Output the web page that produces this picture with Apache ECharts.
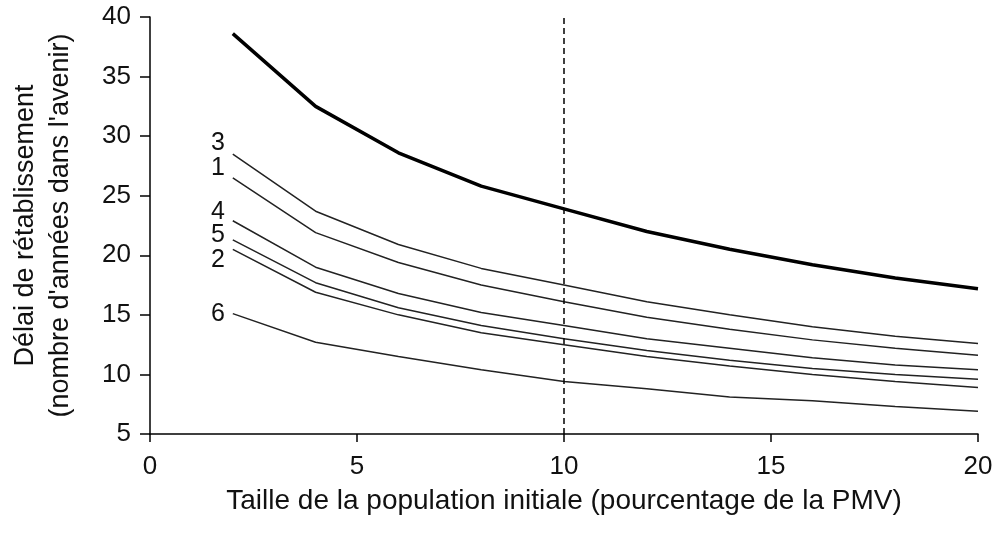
<!DOCTYPE html>
<html>
<head>
<meta charset="utf-8">
<script src="https://cdn.jsdelivr.net/npm/echarts@6/dist/echarts.min.js"></script>
<style>
html,body{margin:0;padding:0;background:#fff;}
#chart{width:997px;height:542px;}
</style>
</head>
<body>
<div id="chart"></div>
<script>
// ---- data ----
const xValues = [2, 4, 6, 8, 10, 12, 14, 16, 18, 20];
const baseline = [38.6, 32.5, 28.6, 25.8, 23.9, 22.0, 20.5, 19.2, 18.1, 17.2];
const scen3 = [28.5, 23.7, 20.9, 18.9, 17.5, 16.1, 15.0, 14.0, 13.2, 12.6];
const scen1 = [26.5, 21.9, 19.4, 17.5, 16.1, 14.8, 13.8, 12.9, 12.2, 11.6];
const scen4 = [22.9, 19.0, 16.8, 15.2, 14.1, 13.0, 12.2, 11.4, 10.8, 10.4];
const scen5 = [21.3, 17.7, 15.6, 14.1, 13.0, 12.0, 11.2, 10.5, 10.0, 9.6];
const scen2 = [20.5, 16.9, 15.0, 13.5, 12.5, 11.5, 10.7, 10.0, 9.4, 8.9];
const scen6 = [15.1, 12.7, 11.5, 10.4, 9.4, 8.8, 8.1, 7.8, 7.3, 6.9];
const scenarioNames = ['3', '1', '4', '5', '2', '6'];
const referenceX = 10;
const xTitle = 'Taille de la population initiale (pourcentage de la PMV)';
const yTitle = 'Délai de rétablissement\n(nombre d\'années dans l\'avenir)';

const FONT = "'Liberation Sans', Arial, sans-serif";
const scenarios = [scen3, scen1, scen4, scen5, scen2, scen6];
const labelOffsets = [[0, -11], [0, -10], [0, -9], [0, -5], [0, 11], [0, 0]];

function pts(arr, labelText, off) {
  return xValues.map((x, i) => {
    const item = { value: [x, arr[i]] };
    if (i === 0 && labelText) {
      item.label = {
        show: true, formatter: labelText, position: 'left', distance: 8,
        offset: off, color: '#111', fontSize: 25, fontFamily: FONT
      };
    }
    return item;
  });
}

const series = [{
  type: 'line',
  data: pts(baseline),
  showSymbol: false,
  symbol: 'none',
  lineStyle: { color: '#000', width: 3.5 },
  z: 5,
  markLine: {
    silent: true,
    symbol: 'none',
    label: { show: false },
    lineStyle: { color: '#000', type: [6, 4], width: 1.5 },
    data: [{ xAxis: referenceX }]
  }
}];
scenarios.forEach((arr, k) => {
  series.push({
    type: 'line',
    data: pts(arr, scenarioNames[k], labelOffsets[k]),
    showSymbol: true,
    symbol: 'circle',
    symbolSize: 0.01,
    itemStyle: { color: 'rgba(0,0,0,0)' },
    lineStyle: { color: '#222', width: 1.5 },
    z: 4
  });
});

const chart = echarts.init(document.getElementById('chart'), null, { renderer: 'canvas' });
chart.setOption({
  animation: false,
  backgroundColor: '#fff',
  textStyle: { fontFamily: FONT },
  grid: { left: 150, right: 19, top: 17, bottom: 108, containLabel: false },
  xAxis: {
    type: 'value', min: 0, max: 20, interval: 5,
    name: xTitle, nameLocation: 'middle', nameGap: 53,
    nameTextStyle: { fontSize: 28, color: '#111', fontFamily: FONT },
    axisLine: { lineStyle: { color: '#000', width: 1.5 } },
    axisTick: { show: true, length: 8, lineStyle: { color: '#000', width: 1.5 } },
    axisLabel: { fontSize: 26, color: '#111', margin: 20, fontFamily: FONT },
    splitLine: { show: false }
  },
  yAxis: {
    type: 'value', min: 5, max: 40, interval: 5,
    name: yTitle, nameLocation: 'middle', nameGap: 72, nameRotate: 90,
    nameTextStyle: { fontSize: 27, color: '#111', lineHeight: 35, fontFamily: FONT },
    axisLine: { show: true, lineStyle: { color: '#000', width: 1.5 } },
    axisTick: { show: true, length: 10, lineStyle: { color: '#000', width: 1.5 } },
    axisLabel: { fontSize: 26, color: '#111', margin: 19, fontFamily: FONT },
    splitLine: { show: false }
  },
  series: series
});
</script>
</body>
</html>
